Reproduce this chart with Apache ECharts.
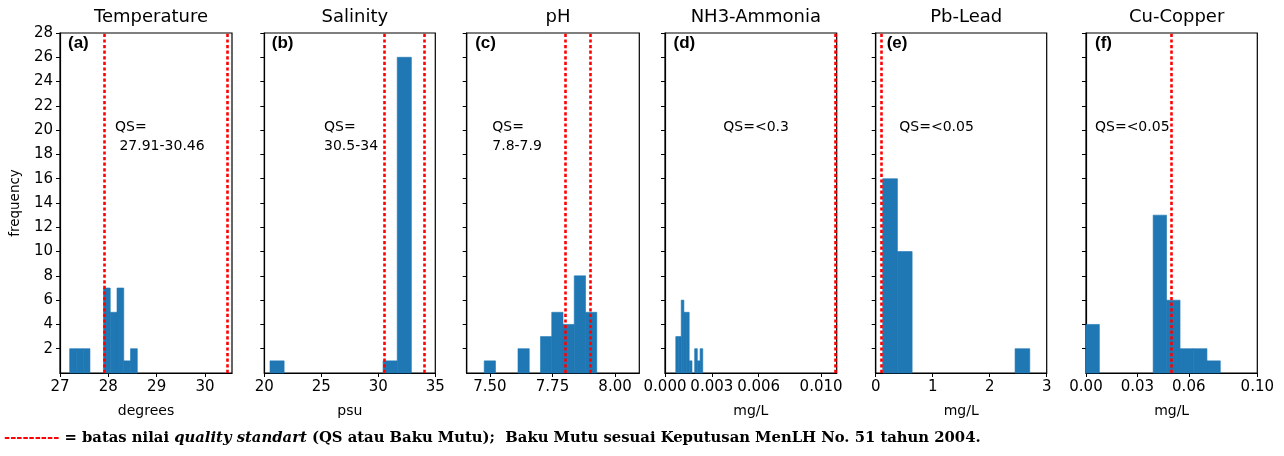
<!DOCTYPE html>
<html><head><meta charset="utf-8">
<script src="https://cdn.jsdelivr.net/npm/echarts@6/dist/echarts.min.js"></script>
<style>html,body{margin:0;padding:0;background:#fff}#c{width:1284px;height:456px}</style>
</head><body><div id="c"></div>
<script>
// ---- data ----
const titles = ['Temperature', 'Salinity', 'pH', 'NH3-Ammonia', 'Pb-Lead', 'Cu-Copper'];
const panelLabels = ['(a)', '(b)', '(c)', '(d)', '(e)', '(f)'];
const xNames = ['degrees', 'psu', '', 'mg/L', 'mg/L', 'mg/L'];
const qsTexts = [['QS=', ' 27.91-30.46'], ['QS=', '30.5-34'], ['QS=', '7.8-7.9'], ['QS=<0.3'], ['QS=<0.05'], ['QS=<0.05']];

const tempEdges = [27.20, 27.34, 27.48, 27.62, 27.76, 27.90, 28.04, 28.18, 28.32, 28.46, 28.60];
const tempCounts = [2, 2, 2, 0, 0, 7, 5, 7, 1, 2];
const salEdges = [20.50, 21.74, 22.98, 24.22, 25.46, 26.70, 27.94, 29.18, 30.42, 31.66, 32.90];
const salCounts = [1, 0, 0, 0, 0, 0, 0, 0, 1, 26];
const phEdges = [7.477, 7.522, 7.567, 7.612, 7.657, 7.702, 7.747, 7.792, 7.837, 7.882, 7.927];
const phCounts = [1, 0, 0, 2, 0, 3, 5, 4, 8, 5];
const nh3Edges = [0.00069, 0.00086, 0.00104, 0.00121, 0.00138, 0.00155, 0.00173, 0.00190, 0.00207, 0.00225, 0.00242];
const nh3Counts = [3, 3, 6, 5, 5, 1, 0, 2, 1, 2];
const pbEdges = [0.123, 0.381, 0.639, 0.897, 1.155, 1.413, 1.671, 1.929, 2.187, 2.445, 2.703];
const pbCounts = [16, 10, 0, 0, 0, 0, 0, 0, 0, 2];
const cuEdges = [0.0, 0.0078, 0.0157, 0.0235, 0.0314, 0.0392, 0.0470, 0.0549, 0.0627, 0.0706, 0.0784];
const cuCounts = [4, 0, 0, 0, 0, 13, 6, 2, 2, 1];

const qsLines = [[27.91, 30.46], [30.5, 34], [7.8, 7.9], [0.0109], [0.1], [0.05]];
const xRanges = [[27, 30.56], [20, 35], [7.407, 8.097], [0, 0.011], [0, 3], [0, 0.10]];
const xTicks = [[27, 28, 29, 30], [20, 25, 30, 35], [7.50, 7.75, 8.00], [0, 0.003, 0.006, 0.010], [0, 1, 2, 3], [0, 0.03, 0.06, 0.10]];
const xDecimals = [0, 0, 2, 3, 0, 2];
const yTicks = [2, 4, 6, 8, 10, 12, 14, 16, 18, 20, 22, 24, 26, 28];
const yMax = 28;

const allEdges = [tempEdges, salEdges, phEdges, nh3Edges, pbEdges, cuEdges];
const allCounts = [tempCounts, salCounts, phCounts, nh3Counts, pbCounts, cuCounts];

// ---- layout ----
const gridLeft = [60, 264.3, 466.7, 665, 875.7, 1086];
const gridWidth = [172, 171, 172.6, 171.7, 171, 171.3];
const gridTop = 33, gridHeight = 340;
const labelOffset = [8, 7.5, 8.5, 8.5, 11, 9];
const qsLeft = [115, 324, 492.3, 723.3, 899.3, 1095];

const FONT = 'DejaVu Sans';
const chart = echarts.init(document.getElementById('c'), null, {renderer: 'canvas'});

const grids = [], xAxes = [], yAxes = [], series = [], titleArr = [], graphics = [];
for (let i = 0; i < 6; i++) {
  grids.push({left: gridLeft[i], top: gridTop, width: gridWidth[i], height: gridHeight,
    show: true, borderColor: '#000', borderWidth: 1.2, backgroundColor: 'transparent'});
  xAxes.push({type: 'value', gridIndex: i, min: xRanges[i][0], max: xRanges[i][1],
    name: xNames[i], nameLocation: 'middle', nameGap: 31,
    nameTextStyle: {fontFamily: FONT, fontSize: 14, color: '#000'},
    axisLine: {show: true, lineStyle: {color: '#000', width: 1.2}},
    axisTick: {show: true, length: 4, inside: false, lineStyle: {color: '#000'}, customValues: xTicks[i]},
    axisLabel: {show: true, margin: 7, fontFamily: FONT, fontSize: 15, color: '#000',
      customValues: xTicks[i], formatter: v => Number(v).toFixed(xDecimals[i])},
    splitLine: {show: false}});
  yAxes.push({type: 'value', gridIndex: i, min: 0, max: yMax,
    name: i === 0 ? 'frequency' : '', nameLocation: 'middle', nameGap: 38,
    nameTextStyle: {fontFamily: FONT, fontSize: 13.5, color: '#000'},
    axisLine: {show: true, lineStyle: {color: '#000', width: 1.2}},
    axisTick: {show: true, length: 4, inside: false, lineStyle: {color: '#000'}, customValues: yTicks},
    axisLabel: {show: i === 0, margin: 7, fontFamily: FONT, fontSize: 15, color: '#000', customValues: yTicks},
    splitLine: {show: false}});
  const edges = allEdges[i], counts = allCounts[i];
  const data = counts.map((c, k) => [edges[k], edges[k + 1], c]);
  series.push({type: 'custom', xAxisIndex: i, yAxisIndex: i, data: data,
    encode: {x: [0, 1], y: 2}, silent: true, z: 2,
    renderItem: (params, api) => {
      const p0 = api.coord([api.value(0), 0]);
      const p1 = api.coord([api.value(1), api.value(2)]);
      return {type: 'rect', shape: {x: p0[0], y: p1[1], width: p1[0] - p0[0], height: p0[1] - p1[1]},
        style: {fill: '#1f77b4', stroke: api.value(2) > 0 ? '#1f77b4' : null, lineWidth: 0.6}};
    },
    markLine: {silent: true, symbol: ['none', 'none'], label: {show: false}, z: 5, precision: 6,
      lineStyle: {color: '#ff0000', width: 2.6, type: [3.2, 2.4]},
      data: qsLines[i].map(v => ({xAxis: v}))}
  });
  titleArr.push({text: titles[i], left: gridLeft[i] + gridWidth[i] / 2, top: 3, textAlign: 'center',
    textStyle: {fontFamily: FONT, fontSize: 18, fontWeight: 'normal', color: '#000'}});
  graphics.push({type: 'text', left: gridLeft[i] + labelOffset[i], top: 35,
    style: {text: panelLabels[i], fontFamily: 'Liberation Sans', fontWeight: 'bold', fontSize: 17, fill: '#000'}});
  const q = qsTexts[i];
  graphics.push({type: 'text', left: qsLeft[i], top: 118,
    style: {text: q.join('\n'), fontFamily: FONT, fontSize: 14, lineHeight: 19, fill: '#000'}});
}

graphics.push({type: 'text', left: 4, top: 431,
  style: {
    text: '{r|---------}{b| = batas nilai }{i|quality standart}{b| (QS atau Baku Mutu);  Baku Mutu sesuai Keputusan MenLH No. 51 tahun 2004.}',
    rich: {
      r: {fill: '#ff0000', fontFamily: 'DejaVu Serif', fontWeight: 'bold', fontSize: 14.8},
      b: {fill: '#000', fontFamily: 'DejaVu Serif', fontWeight: 'bold', fontSize: 14.8},
      i: {fill: '#000', fontFamily: 'DejaVu Serif', fontWeight: 'bold', fontStyle: 'italic', fontSize: 14.8}
    }
  }});

chart.setOption({
  animation: false,
  backgroundColor: '#fff',
  title: titleArr,
  grid: grids,
  xAxis: xAxes,
  yAxis: yAxes,
  series: series,
  graphic: graphics
});
</script></body></html>
